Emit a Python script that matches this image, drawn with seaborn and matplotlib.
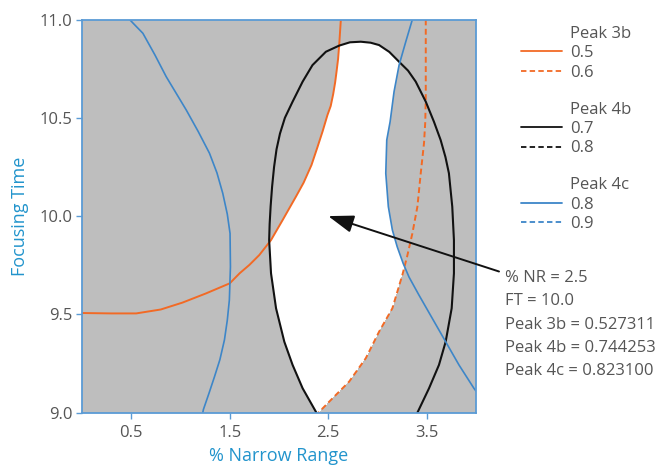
import numpy as np
import matplotlib
matplotlib.use("Agg")
import matplotlib.pyplot as plt
from matplotlib.colors import ListedColormap
from matplotlib.path import Path
from matplotlib.lines import Line2D
import seaborn as sns

# ---- contour traces: % Narrow Range (x) vs Focusing Time (y) ----
# Peak 3b = 0.5
p3b_05_x = [0.0, 0.30, 0.55, 0.80, 1.02, 1.26, 1.50, 1.60, 1.70, 1.80, 1.919, 2.037, 2.172,
            2.25, 2.33, 2.39, 2.442, 2.492, 2.525, 2.55, 2.57, 2.584, 2.60, 2.611, 2.628]
p3b_05_y = [9.507, 9.505, 9.505, 9.525, 9.56, 9.607, 9.658, 9.709, 9.752, 9.802, 9.878, 9.98, 10.099,
            10.17, 10.26, 10.35, 10.43, 10.514, 10.56, 10.62, 10.68, 10.734, 10.80, 10.87, 11.0]
# Peak 3b = 0.6
p3b_06_x = [3.49, 3.49, 3.485, 3.472, 3.439, 3.405, 3.354, 3.30, 3.252, 3.151, 3.016,
            2.881, 2.712, 2.543, 2.40]
p3b_06_y = [11.0, 10.60, 10.48, 10.37, 10.218, 10.048, 9.912, 9.793, 9.70, 9.531, 9.412,
            9.277, 9.158, 9.073, 9.0]
# Peak 4b = 0.7
p4b_07_x = [2.38, 2.24, 2.138, 2.054, 1.97, 1.919, 1.90, 1.905, 1.915, 1.93, 1.95, 1.975, 2.01,
            2.06, 2.138, 2.24, 2.34, 2.476, 2.61, 2.72, 2.83, 2.93, 3.016, 3.12, 3.219, 3.31, 3.388,
            3.49, 3.573, 3.641, 3.69, 3.725, 3.759, 3.776, 3.776, 3.753, 3.692, 3.624, 3.523, 3.405]
p4b_07_y = [9.0, 9.124, 9.243, 9.361, 9.531, 9.709, 9.878, 9.96, 10.05, 10.15, 10.25, 10.34, 10.42,
            10.50, 10.582, 10.684, 10.768, 10.836, 10.867, 10.884, 10.887, 10.882, 10.87, 10.835, 10.785,
            10.74, 10.684, 10.582, 10.48, 10.387, 10.30, 10.218, 10.048, 9.878, 9.709, 9.531, 9.361,
            9.243, 9.124, 9.0]
# Peak 4c = 0.8 (two branches)
p4c_08a_x = [0.483, 0.55, 0.618, 0.74, 0.855, 1.058, 1.18, 1.294, 1.37, 1.429, 1.475, 1.503, 1.507,
             1.496, 1.475, 1.446, 1.40, 1.345, 1.29, 1.233, 1.226]
p4c_08a_y = [11.0, 10.965, 10.93, 10.82, 10.709, 10.54, 10.43, 10.32, 10.22, 10.116, 10.01, 9.912, 9.742,
             9.573, 9.47, 9.37, 9.27, 9.183, 9.10, 9.017, 9.0]
p4c_08b_x = [3.354, 3.287, 3.219, 3.168, 3.128, 3.094, 3.084, 3.11, 3.151, 3.20, 3.26, 3.32,
             3.42, 3.556, 3.692, 3.827, 3.979, 4.0]
p4c_08b_y = [11.0, 10.887, 10.768, 10.633, 10.48, 10.387, 10.218, 10.048, 9.929, 9.844, 9.76, 9.69,
             9.599, 9.48, 9.361, 9.243, 9.124, 9.11]

legend_groups = ["Peak 3b", "Peak 4b", "Peak 4c"]
legend_levels = [["0.5", "0.6"], ["0.7", "0.8"], ["0.8", "0.9"]]

point_nr = 2.5
point_ft = 10.0
point_labels = ["% NR = 2.5", "FT = 10.0", "Peak 3b = 0.527311",
                "Peak 4b = 0.744253", "Peak 4c = 0.823100"]

x_ticks = [0.5, 1.5, 2.5, 3.5]
y_ticks = [9.0, 9.5, 10.0, 10.5, 11.0]

ORANGE = "#F26A25"
BLUE = "#3D86C8"
BLACK = "#111111"
GRAY = "#BEBEBE"
SPINE = "#5B9BD5"
TEXT = "#555555"
LABEL = "#2294CC"

sns.set_theme(style="white")
plt.rcParams["font.family"] = ["Open Sans", "DejaVu Sans"]

W, H = 663, 466
fig = plt.figure(figsize=(W / 100, H / 100), dpi=100)
ax = fig.add_axes([82 / W, (H - 412.7) / H, (476 - 82) / W, (412.7 - 19.5) / H])
ax.set_xlim(0, 4)
ax.set_ylim(9, 11)
ax.set_facecolor(GRAY)

# feasible (white) region: inside the 4b ellipse, right of 3b=0.5,
# left of 3b=0.6 and left of the right branch of 4c=0.8
def region(vx, vy, extra):
    pts = list(zip(vx, vy)) + extra
    return Path(np.array(pts))

paths = [
    region(p4b_07_x, p4b_07_y, []),
    region(p3b_05_x, p3b_05_y, [(4, 11), (4, 9), (0, 9)]),
    region(p3b_06_x, p3b_06_y, [(0, 9), (0, 11)]),
    region(p4c_08b_x, p4c_08b_y, [(4, 9), (0, 9), (0, 11)]),
]
gx = np.linspace(0, 4, 1600)
gy = np.linspace(9, 11, 900)
XX, YY = np.meshgrid(gx, gy)
pts = np.column_stack([XX.ravel(), YY.ravel()])
mask = np.ones(len(pts), dtype=bool)
for p in paths:
    mask &= p.contains_points(pts)
mask = mask.reshape(XX.shape).astype(float)
ax.imshow(mask, extent=[0, 4, 9, 11], origin="lower", aspect="auto",
          cmap=ListedColormap([GRAY, "white"]), interpolation="nearest", zorder=0)

dash = (0, (3.0, 1.8))
sns.lineplot(x=p3b_05_x, y=p3b_05_y, sort=False, estimator=None, ax=ax,
             color=ORANGE, lw=1.4, legend=False)
sns.lineplot(x=p3b_06_x, y=p3b_06_y, sort=False, estimator=None, ax=ax,
             color=ORANGE, lw=1.4, linestyle=dash, legend=False)
sns.lineplot(x=p4b_07_x, y=p4b_07_y, sort=False, estimator=None, ax=ax,
             color=BLACK, lw=1.5, legend=False)
sns.lineplot(x=p4c_08a_x, y=p4c_08a_y, sort=False, estimator=None, ax=ax,
             color=BLUE, lw=1.2, legend=False)
sns.lineplot(x=p4c_08b_x, y=p4c_08b_y, sort=False, estimator=None, ax=ax,
             color=BLUE, lw=1.2, legend=False)

# axes styling
for s in ax.spines.values():
    s.set_visible(True)
    s.set_color(SPINE)
    s.set_linewidth(1.3)
ax.set_xticks(x_ticks)
ax.set_yticks(y_ticks)
ax.set_xticklabels([f"{v:.1f}" for v in x_ticks])
ax.set_yticklabels([f"{v:.1f}" for v in y_ticks])
ax.tick_params(axis="both", direction="out", length=4, width=1, color=SPINE,
               labelcolor=TEXT, labelsize=12)
ax.tick_params(axis="x", pad=5, bottom=True)
ax.tick_params(axis="y", pad=3, left=True)
ax.set_xlabel("% Narrow Range", color=LABEL, fontsize=13)
ax.set_ylabel("Focusing Time", color=LABEL, fontsize=13)
ax.xaxis.set_label_coords(0.5, -0.087)
ax.yaxis.set_label_coords(-0.135, 0.5)
ax.grid(False)

# legend, drawn in figure pixels
def fx(px):
    return px / W

def fy(py):
    return 1 - py / H

styles = {0: ORANGE, 1: BLACK, 2: BLUE}
row = 19.5
group_step = 75.8
for gi, (g, levs) in enumerate(zip(legend_groups, legend_levels)):
    y0 = 31.7 + gi * group_step
    fig.text(fx(570.5), fy(y0 + 6), g, color=TEXT, fontsize=12, va="baseline", ha="left")
    for li, lv in enumerate(levs):
        yc = y0 + (li + 1) * row
        fig.add_artist(Line2D([fx(521), fx(562)], [fy(yc), fy(yc)], color=styles[gi],
                              lw=1.3, linestyle="-" if li == 0 else dash,
                              transform=fig.transFigure))
        fig.text(fx(570.5), fy(yc + 6), lv, color=TEXT, fontsize=12, va="baseline", ha="left")

# point annotation
ax.annotate("", xy=(point_nr, point_ft), xytext=(fx(499), fy(271.5)),
            textcoords="figure fraction", annotation_clip=False,
            arrowprops=dict(arrowstyle="-|>,head_length=1.3,head_width=0.45",
                            color=BLACK, lw=1.4, shrinkA=0, shrinkB=0))
for i, t in enumerate(point_labels):
    yc = 276 + i * 23.3
    fig.text(fx(505.5), fy(yc + 6), t, color=TEXT, fontsize=12, va="baseline", ha="left")

fig.savefig("out.png", dpi=100)
